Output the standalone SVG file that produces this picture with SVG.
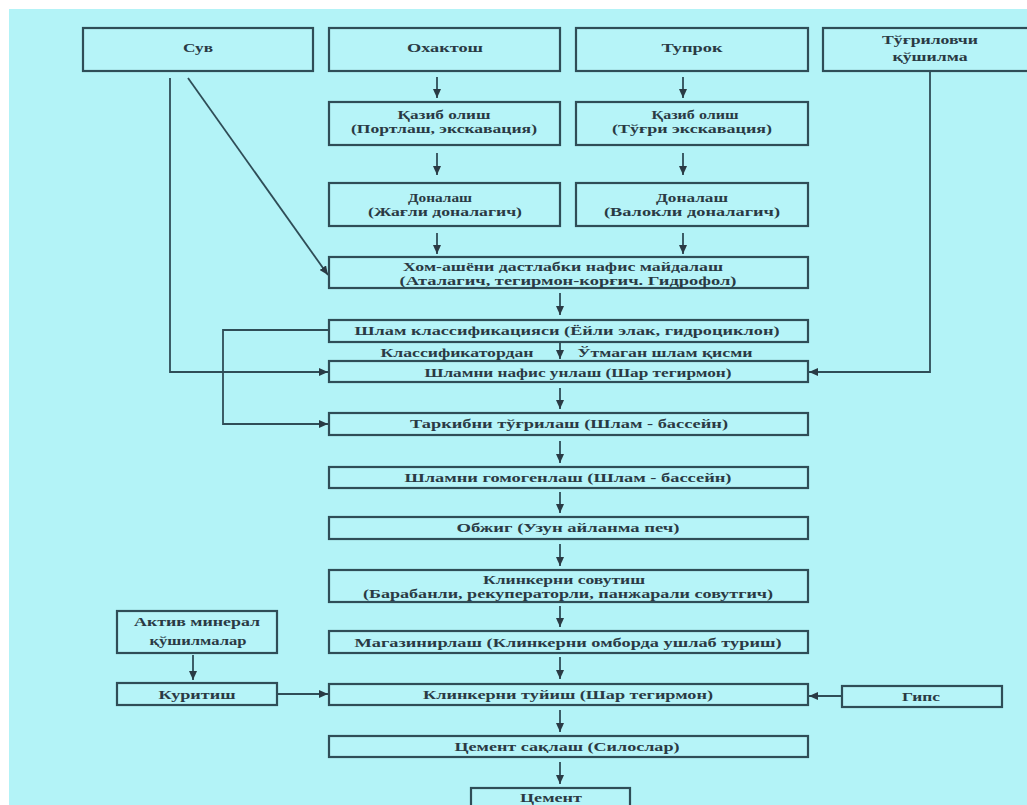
<svg xmlns="http://www.w3.org/2000/svg" width="1027" height="805" viewBox="0 0 1027 805">
<style>
.bg{fill:#b3f3f7}
.box{fill:#b6f4f8;stroke:#2f4d57;stroke-width:2.2}
.ln{fill:none;stroke:#2f4d57;stroke-width:1.8}
.t{font-family:"Liberation Serif","Times New Roman",serif;font-weight:bold;font-size:13.5px;fill:#2a3a44;text-anchor:middle}
</style>
<defs>
<marker id="ah" markerUnits="userSpaceOnUse" markerWidth="9" markerHeight="8" refX="9" refY="4" orient="auto">
<path d="M0,0 L9,4 L0,8 z" fill="#2a3a44"/>
</marker>
</defs>
<rect x="0" y="0" width="1027" height="805" fill="#ffffff"/>
<rect class="bg" x="9" y="9" width="1018" height="796"/>

<g id="connectors">
<line class="ln" x1="437" y1="77" x2="437" y2="98" marker-end="url(#ah)"/>
<line class="ln" x1="683" y1="77" x2="683" y2="98" marker-end="url(#ah)"/>
<line class="ln" x1="437" y1="153" x2="437" y2="175" marker-end="url(#ah)"/>
<line class="ln" x1="683" y1="153" x2="683" y2="175" marker-end="url(#ah)"/>
<line class="ln" x1="437" y1="233" x2="437" y2="254" marker-end="url(#ah)"/>
<line class="ln" x1="683" y1="233" x2="683" y2="254" marker-end="url(#ah)"/>
<line class="ln" x1="188" y1="78" x2="328" y2="275" marker-end="url(#ah)"/>
<polyline class="ln" points="170,78 170,372 328,372" marker-end="url(#ah)"/>
<polyline class="ln" points="930,71 930,372 809,372" marker-end="url(#ah)"/>
<polyline class="ln" points="329,330 223,330 223,424 328,424" marker-end="url(#ah)"/>
<line class="ln" x1="560" y1="293" x2="560" y2="315" marker-end="url(#ah)"/>
<line class="ln" x1="560" y1="343" x2="560" y2="359" marker-end="url(#ah)"/>
<line class="ln" x1="560" y1="388" x2="560" y2="409" marker-end="url(#ah)"/>
<line class="ln" x1="560" y1="441" x2="560" y2="463" marker-end="url(#ah)"/>
<line class="ln" x1="560" y1="492" x2="560" y2="513" marker-end="url(#ah)"/>
<line class="ln" x1="560" y1="544" x2="560" y2="566" marker-end="url(#ah)"/>
<line class="ln" x1="560" y1="606" x2="560" y2="627" marker-end="url(#ah)"/>
<line class="ln" x1="560" y1="657" x2="560" y2="679" marker-end="url(#ah)"/>
<line class="ln" x1="560" y1="710" x2="560" y2="732" marker-end="url(#ah)"/>
<line class="ln" x1="560" y1="762" x2="560" y2="784" marker-end="url(#ah)"/>
<line class="ln" x1="193" y1="655" x2="193" y2="680" marker-end="url(#ah)"/>
<line class="ln" x1="277" y1="694" x2="328" y2="694" marker-end="url(#ah)"/>
<line class="ln" x1="842" y1="696" x2="809" y2="696" marker-end="url(#ah)"/>
</g>

<g id="n-suv"><rect class="box" x="83" y="28" width="230" height="43"/><text class="t" x="198" y="52" textLength="30" lengthAdjust="spacingAndGlyphs">Сув</text></g>
<g id="n-ohaktosh"><rect class="box" x="329" y="28" width="231" height="43"/><text class="t" x="445" y="52" textLength="76" lengthAdjust="spacingAndGlyphs">Охактош</text></g>
<g id="n-tuproq"><rect class="box" x="576" y="28" width="232" height="43"/><text class="t" x="692" y="52" textLength="61" lengthAdjust="spacingAndGlyphs">Тупрок</text></g>
<g id="n-tugrilovchi"><rect class="box" x="823" y="28" width="217" height="43"/><text class="t" x="930" y="44" textLength="96" lengthAdjust="spacingAndGlyphs">Тўғриловчи</text><text class="t" x="930" y="61" textLength="75" lengthAdjust="spacingAndGlyphs">қўшилма</text></g>

<g id="n-qazib1"><rect class="box" x="329" y="102" width="231" height="43"/><text class="t" x="444" y="119" textLength="93" lengthAdjust="spacingAndGlyphs">Қазиб олиш</text><text class="t" x="444" y="133" textLength="186" lengthAdjust="spacingAndGlyphs">(Портлаш, экскавация)</text></g>
<g id="n-qazib2"><rect class="box" x="576" y="102" width="232" height="43"/><text class="t" x="695" y="119" textLength="87" lengthAdjust="spacingAndGlyphs">Қазиб олиш</text><text class="t" x="692" y="133" textLength="160" lengthAdjust="spacingAndGlyphs">(Тўғри экскавация)</text></g>

<g id="n-donalash1"><rect class="box" x="329" y="183" width="231" height="43"/><text class="t" x="440" y="202" textLength="64" lengthAdjust="spacingAndGlyphs">Доналаш</text><text class="t" x="445" y="216" textLength="154" lengthAdjust="spacingAndGlyphs">(Жағли доналагич)</text></g>
<g id="n-donalash2"><rect class="box" x="576" y="183" width="232" height="43"/><text class="t" x="692" y="202" textLength="72" lengthAdjust="spacingAndGlyphs">Доналаш</text><text class="t" x="692" y="216" textLength="176" lengthAdjust="spacingAndGlyphs">(Валокли доналагич)</text></g>

<g id="n-homashyo"><rect class="box" x="329" y="257" width="479" height="31"/><text class="t" x="563" y="271" textLength="320" lengthAdjust="spacingAndGlyphs">Хом-ашёни дастлабки нафис майдалаш</text><text class="t" x="568" y="285" textLength="337" lengthAdjust="spacingAndGlyphs">(Аталагич, тегирмон-корғич. Гидрофол)</text></g>

<g id="n-klass"><rect class="box" x="329" y="320" width="479" height="22"/><text class="t" x="567" y="335" textLength="425" lengthAdjust="spacingAndGlyphs">Шлам классификацияси (Ёйли элак, гидроциклон)</text></g>
<g id="labels"><text class="t" x="457" y="357" textLength="153" lengthAdjust="spacingAndGlyphs">Классификатордан</text><text class="t" x="665" y="357" textLength="175" lengthAdjust="spacingAndGlyphs">Ўтмаган шлам қисми</text></g>
<g id="n-unlash"><rect class="box" x="329" y="361" width="479" height="21"/><text class="t" x="578" y="377" textLength="307" lengthAdjust="spacingAndGlyphs">Шламни нафис унлаш (Шар тегирмон)</text></g>
<g id="n-tarkib"><rect class="box" x="329" y="413" width="479" height="22"/><text class="t" x="569" y="428" textLength="318" lengthAdjust="spacingAndGlyphs">Таркибни тўғрилаш (Шлам - бассейн)</text></g>
<g id="n-gomogen"><rect class="box" x="329" y="467" width="479" height="21"/><text class="t" x="568" y="482" textLength="327" lengthAdjust="spacingAndGlyphs">Шламни гомогенлаш (Шлам - бассейн)</text></g>
<g id="n-obzhig"><rect class="box" x="329" y="517" width="479" height="22"/><text class="t" x="568" y="532" textLength="223" lengthAdjust="spacingAndGlyphs">Обжиг (Узун айланма печ)</text></g>
<g id="n-sovutish"><rect class="box" x="329" y="570" width="479" height="32"/><text class="t" x="564" y="584" textLength="162" lengthAdjust="spacingAndGlyphs">Клинкерни совутиш</text><text class="t" x="568" y="598" textLength="410" lengthAdjust="spacingAndGlyphs">(Барабанли, рекуператорли, панжарали совутгич)</text></g>
<g id="n-magazin"><rect class="box" x="329" y="631" width="479" height="22"/><text class="t" x="568" y="647" textLength="427" lengthAdjust="spacingAndGlyphs">Магазинирлаш (Клинкерни омборда ушлаб туриш)</text></g>
<g id="n-tuyish"><rect class="box" x="329" y="684" width="479" height="21"/><text class="t" x="568" y="699" textLength="290" lengthAdjust="spacingAndGlyphs">Клинкерни туйиш (Шар тегирмон)</text></g>
<g id="n-saqlash"><rect class="box" x="329" y="736" width="479" height="21"/><text class="t" x="567" y="751" textLength="225" lengthAdjust="spacingAndGlyphs">Цемент сақлаш (Силослар)</text></g>
<g id="n-sement"><rect class="box" x="471" y="788" width="159" height="30"/><text class="t" x="551" y="802" textLength="62" lengthAdjust="spacingAndGlyphs">Цемент</text></g>

<g id="n-aktiv"><rect class="box" x="117" y="611" width="160" height="42"/><text class="t" x="197" y="626" textLength="126" lengthAdjust="spacingAndGlyphs">Актив минерал</text><text class="t" x="198" y="645" textLength="97" lengthAdjust="spacingAndGlyphs">қўшилмалар</text></g>
<g id="n-quritish"><rect class="box" x="117" y="683" width="160" height="22"/><text class="t" x="197" y="699" textLength="77" lengthAdjust="spacingAndGlyphs">Куритиш</text></g>
<g id="n-gips"><rect class="box" x="842" y="686" width="160" height="21"/><text class="t" x="921" y="701" textLength="38" lengthAdjust="spacingAndGlyphs">Гипс</text></g>
</svg>
